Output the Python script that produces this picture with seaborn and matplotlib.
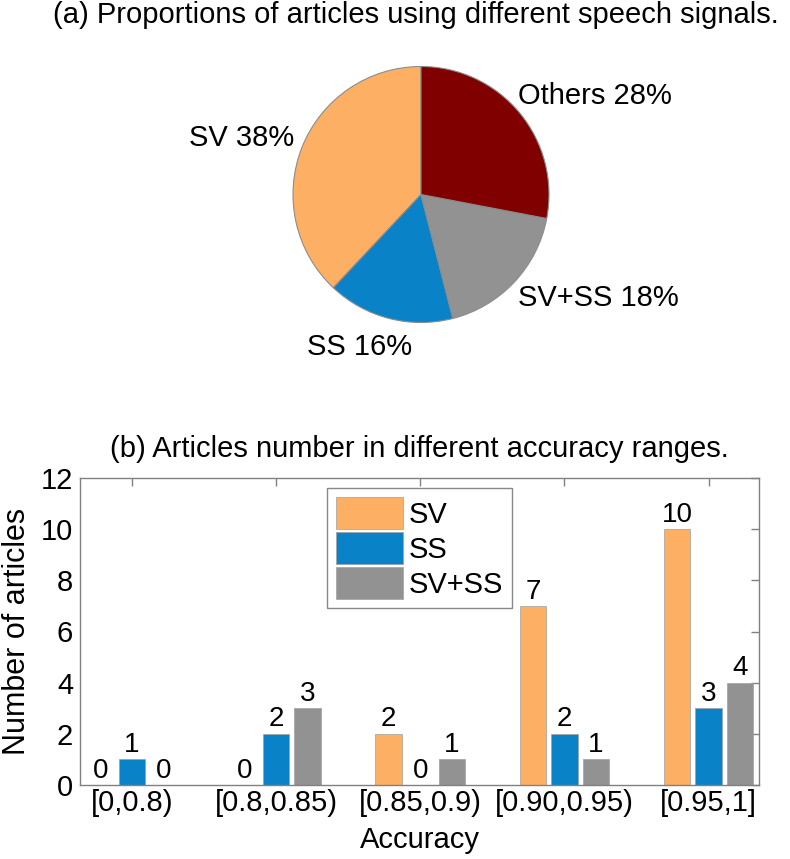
import numpy as np
import pandas as pd
import matplotlib
matplotlib.use("Agg")
import matplotlib.pyplot as plt
import seaborn as sns

# pie: share of articles per speech signal
pie_names = ["SV", "SS", "SV+SS", "Others"]
pie_shares = [38, 16, 18, 28]
pie_colors = ["#fdb064", "#0a82c8", "#929292", "#800000"]

# bars: number of articles per accuracy range
acc_ranges = ["[0,0.8)", "[0.8,0.85)", "[0.85,0.9)", "[0.90,0.95)", "[0.95,1]"]
signals = ["SV", "SS", "SV+SS"]
sv_counts = [0, 0, 2, 7, 10]
ss_counts = [1, 2, 0, 2, 3]
svss_counts = [0, 3, 1, 1, 4]
bar_colors = ["#fdb064", "#0a82c8", "#929292"]

df = pd.DataFrame({
    "Accuracy": acc_ranges * 3,
    "signal": [s for s in signals for _ in acc_ranges],
    "count": sv_counts + ss_counts + svss_counts,
})

sns.set_theme(style="white")
plt.rcParams["font.family"] = ["Liberation Sans", "DejaVu Sans"]
plt.rcParams["text.color"] = "black"
plt.rcParams["axes.labelcolor"] = "black"

W, H = 790, 859
fig = plt.figure(figsize=(W / 100, H / 100), dpi=100)


def px_axes(x0, y0, x1, y1):
    return fig.add_axes([x0 / W, 1 - y1 / H, (x1 - x0) / W, (y1 - y0) / H])


# (a) pie
ax_pie = px_axes(293, 66.5, 549, 322.5)
wedges, texts = ax_pie.pie(
    pie_shares,
    labels=[f"{n} {s}%" for n, s in zip(pie_names, pie_shares)],
    colors=pie_colors, startangle=90, counterclock=True, labeldistance=1.1,
    wedgeprops=dict(edgecolor="#8c8c8c", linewidth=0.8),
    textprops=dict(fontsize=21, color="black"),
)
ax_pie.set_xlim(-1, 1)
ax_pie.set_ylim(-1, 1)
# MATLAB-like label placement
label_pos = [(-0.99, 0.44, "right"), (-0.48, -1.19, "center"),
             (0.76, -0.81, "left"), (0.76, 0.77, "left")]
for t, (x, y, ha) in zip(texts, label_pos):
    t.set_position((x, y))
    t.set_ha(ha)
fig.text(416 / W, 1 - 15 / H, "(a) Proportions of articles using different speech signals.",
         ha="center", va="center", fontsize=21, color="black")

# (b) bars
ax = px_axes(80, 478, 759, 785)
sns.barplot(data=df, x="Accuracy", y="count", hue="signal", palette=bar_colors,
            width=0.656, gap=0.16, saturation=1, edgecolor="#a0a0a0", linewidth=0.5,
            ax=ax)
for c in ax.containers:
    ax.bar_label(c, fontsize=20, padding=1, color="black")

ax.set_xlim(-0.36, 4.35)
ax.set_ylim(0, 12)
ax.set_yticks(np.arange(0, 13, 2))
ax.set_ylabel("Number of articles", fontsize=22, labelpad=6)
ax.set_xlabel("Accuracy", fontsize=21, labelpad=6)
ax.set_title("(b) Articles number in different accuracy ranges.", fontsize=21, pad=15)
ax.tick_params(direction="in", top=True, right=True, length=6, width=1,
               color="#808080", labelcolor="black", labelsize=21)
ax.tick_params(axis="x", pad=3)
ax.tick_params(axis="y", pad=5)
for sp in ax.spines.values():
    sp.set_color("#808080")
    sp.set_linewidth(1)

sns.move_legend(ax, "upper left", bbox_to_anchor=(0.364, 0.967), title=None,
                fontsize=21, frameon=True, fancybox=False, framealpha=1,
                edgecolor="#888888", handlelength=2.3, handleheight=1.3,
                labelspacing=0.12, borderpad=0.3, handletextpad=0.2,
                borderaxespad=0)

fig.savefig("out.png", dpi=100)
